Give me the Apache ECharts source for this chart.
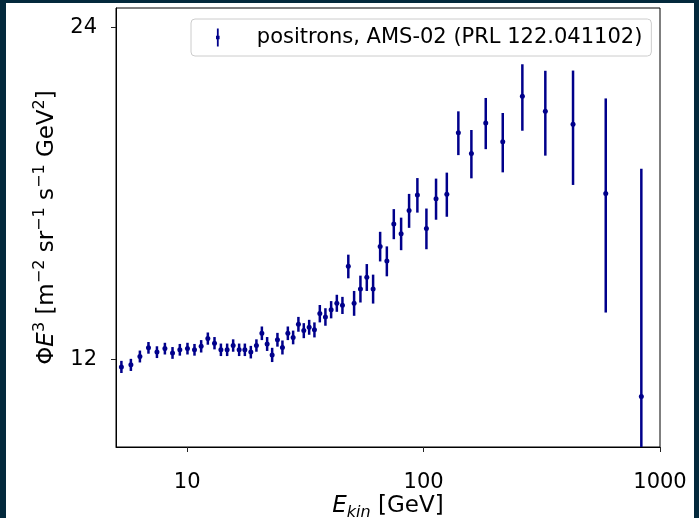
<!DOCTYPE html>
<html>
<head>
<meta charset="utf-8">
<script src="https://cdn.jsdelivr.net/npm/echarts@6/dist/echarts.min.js"></script>
<style>
html, body { margin: 0; padding: 0; background: #03293c; }
#chart { position: absolute; left: 6px; top: 3px; width: 688px; height: 515px; background: #ffffff; }
</style>
</head>
<body>
<div id="chart"></div>
<script>
// positron flux * E^3, AMS-02
const energies = [5.27, 5.78, 6.31, 6.86, 7.45, 8.05, 8.67, 9.31, 10.03, 10.74,
    11.46, 12.23, 13.05, 13.89, 14.76, 15.65, 16.59, 17.54, 18.59, 19.63,
    20.70, 21.79, 22.88, 24.09, 25.29, 26.66, 28.07, 29.55, 31.14, 32.81,
    34.54, 36.40, 38.44, 40.64, 42.96, 45.37, 48.04, 50.83, 54.06, 57.52,
    61.16, 65.50, 69.92, 74.82, 80.35, 86.83, 94.14, 102.8, 112.9, 125.4,
    140.3, 159.3, 183.2, 216.2, 261.7, 327.3, 428.7, 589.5, 833.8]
const flux = [11.82, 11.87, 12.08, 12.30, 12.19, 12.28, 12.17, 12.25, 12.28, 12.25,
    12.34, 12.54, 12.42, 12.25, 12.25, 12.36, 12.25, 12.25, 12.19, 12.36,
    12.68, 12.40, 12.12, 12.51, 12.31, 12.68, 12.57, 12.92, 12.75, 12.84,
    12.77, 13.21, 13.12, 13.32, 13.50, 13.44, 14.58, 13.50, 13.91, 14.25,
    13.91, 15.20, 14.74, 15.93, 15.61, 16.38, 16.92, 15.78, 16.79, 16.95,
    19.27, 18.45, 19.67, 18.91, 20.79, 20.15, 19.61, 16.97, 11.11]
const fluxErr = [0.15, 0.15, 0.15, 0.15, 0.15, 0.15, 0.15, 0.15, 0.15, 0.15,
    0.16, 0.16, 0.16, 0.16, 0.16, 0.16, 0.16, 0.16, 0.16, 0.16,
    0.18, 0.18, 0.18, 0.18, 0.18, 0.18, 0.18, 0.20, 0.20, 0.20,
    0.20, 0.24, 0.24, 0.24, 0.24, 0.24, 0.36, 0.35, 0.39, 0.40,
    0.42, 0.47, 0.46, 0.50, 0.53, 0.58, 0.61, 0.67, 0.72, 0.78,
    0.88, 0.93, 1.05, 1.17, 1.44, 1.78, 2.33, 3.73, 6.76]
const xTicks = [10, 100, 1000]
const yTicks = [12, 24]

const seriesName = 'positrons, AMS-02 (PRL 122.041102)'
const color = '#00008b'
const font = 'DejaVu Sans'

const points = energies.map((e, i) => [e, flux[i], fluxErr[i]])

const chart = echarts.init(document.getElementById('chart'))

chart.setOption({
    animation: false,
    textStyle: { fontFamily: font },
    grid: {
        left: 110,
        top: 5,
        width: 544,
        height: 439,
        outerBoundsMode: 'none', // keep the grid where it is, labels may overflow
        containLabel: false,
        show: true,
        borderColor: '#000',
        borderWidth: 1,
        backgroundColor: 'transparent'
    },
    legend: {
        left: 185,
        top: 16,
        padding: [8, 9, 8, 25],
        itemWidth: 6,
        itemHeight: 18,
        borderColor: '#cccccc',
        borderWidth: 1,
        borderRadius: 4,
        backgroundColor: 'rgba(255,255,255,0.8)',
        textStyle: { fontFamily: font, fontSize: 21, color: '#000', padding: [0, 0, 0, 31] },
        data: [{ name: seriesName, icon: 'path://M2,0H4V8H5V12H4V20H2V12H1V8H2Z' }]
    },
    xAxis: {
        type: 'log',
        logBase: 10,
        min: 5,
        max: 1000,
        name: '{it|E}{sub|kin} [GeV]',
        nameLocation: 'middle',
        nameGap: 44,
        nameMoveOverlap: false,
        nameTextStyle: {
            fontFamily: font,
            fontSize: 23,
            color: '#000',
            lineHeight: 30,
            rich: {
                it: { fontFamily: font, fontSize: 23, fontStyle: 'italic', color: '#000', lineHeight: 30 },
                sub: { fontFamily: font, fontSize: 16, fontStyle: 'italic', color: '#000', verticalAlign: 'bottom', lineHeight: 30 }
            }
        },
        axisLine: { show: true, lineStyle: { color: '#000', width: 1 } },
        axisTick: { show: true, length: 5, customValues: xTicks, lineStyle: { color: '#222' } },
        axisLabel: {
            customValues: xTicks,
            margin: 25,
            fontSize: 21,
            color: '#000',
            fontFamily: font,
            formatter: function(value) {
                return String(value)
            }
        },
        splitLine: { show: false }
    },
    yAxis: {
        type: 'log',
        logBase: 2,
        min: 10,
        max: 25,
        name: 'Φ{it|E}{sup|3} [m{sup|−2} sr{sup|−1} s{sup|−1} GeV{sup|2}]',
        nameLocation: 'middle',
        nameGap: 54,
        nameMoveOverlap: false,
        nameTextStyle: {
            fontFamily: font,
            fontSize: 23,
            color: '#000',
            lineHeight: 30,
            rich: {
                it: { fontFamily: font, fontSize: 23, fontStyle: 'italic', color: '#000', lineHeight: 30 },
                sup: { fontFamily: font, fontSize: 16, color: '#000', verticalAlign: 'top', lineHeight: 30 }
            }
        },
        axisLine: { show: true, lineStyle: { color: '#000', width: 1 } },
        axisTick: { show: true, length: 5, customValues: yTicks, lineStyle: { color: '#222' } },
        axisLabel: { customValues: yTicks, margin: 19, fontSize: 21, color: '#000', fontFamily: font },
        splitLine: { show: false }
    },
    series: [
        {
            name: seriesName,
            type: 'custom',
            clip: true,
            itemStyle: { color: color },
            encode: { x: 0, y: 1 },
            data: points,
            renderItem: function(params, api) {
                const x = api.value(0)
                const y = api.value(1)
                const err = api.value(2)
                const hi = api.coord([x, y + err])
                const lo = api.coord([x, y - err])
                const mid = api.coord([x, y])
                return {
                    type: 'group',
                    children: [
                        {
                            type: 'line',
                            shape: { x1: hi[0], y1: hi[1], x2: lo[0], y2: lo[1] },
                            style: { stroke: color, lineWidth: 2.5 }
                        },
                        {
                            type: 'circle',
                            shape: { cx: mid[0], cy: mid[1], r: 2.5 },
                            style: { fill: color }
                        }
                    ]
                }
            }
        }
    ]
})
</script>
</body>
</html>
